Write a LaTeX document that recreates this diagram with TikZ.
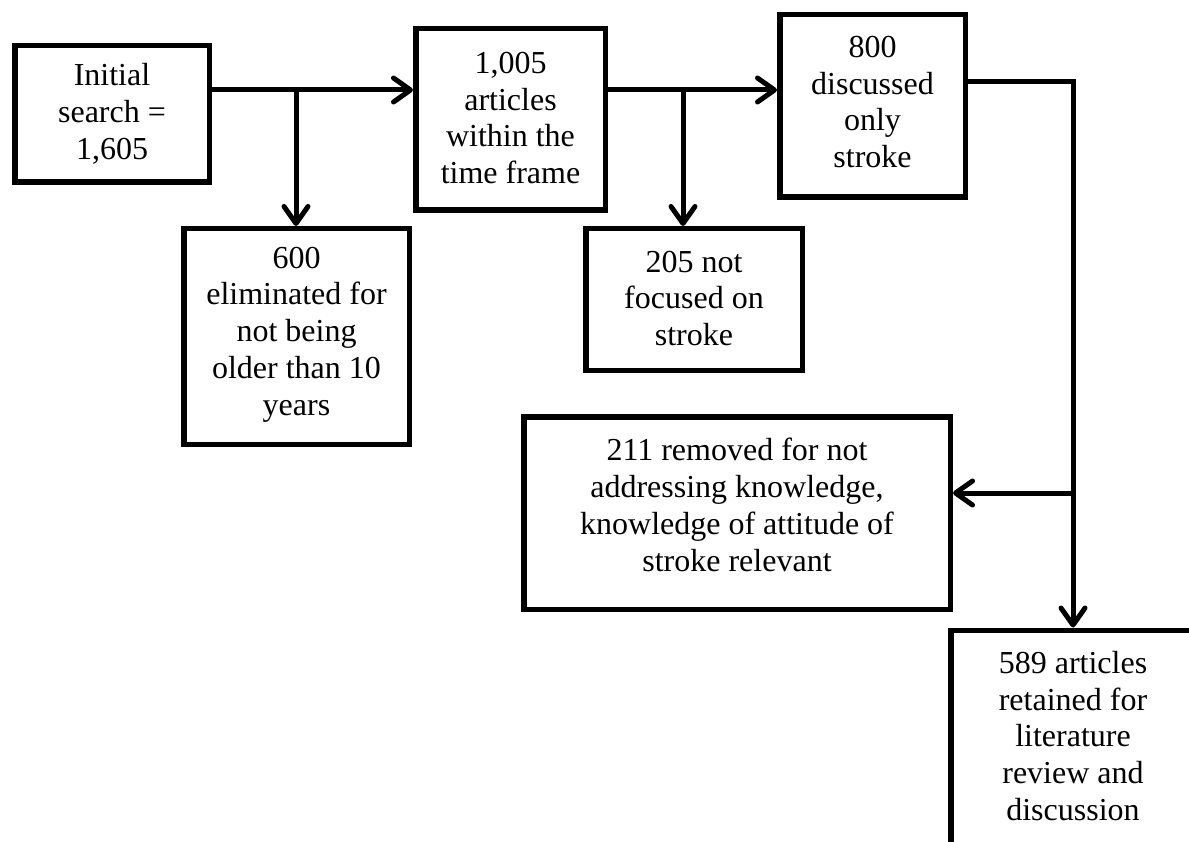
\documentclass[tikz,border=0pt]{standalone}
\usepackage{fontspec}
\setmainfont{Liberation Serif}
\usetikzlibrary{arrows.meta}
\begin{document}
\begin{tikzpicture}[x=1pt,y=-1pt,
  box/.style={draw=black,line width=5.5pt,inner sep=0pt,line join=miter},
  txt/.style={align=center,inner sep=0pt,font=\fontsize{32}{36.8}\selectfont},
  conn/.style={line width=5pt,line join=miter},
  arr/.style={conn,-{Straight Barb[length=17pt,width=24pt,line cap=round,line join=round]}}]
\useasboundingbox (0,0) rectangle (1189,842);
\node[box,minimum width=194.5pt,minimum height=136.5pt,
  label={[txt]center:{Initial\\search =\\1,605}}] (B1) at (112,114) {};
\node[box,minimum width=189.5pt,minimum height=181.5pt,
  label={[txt,yshift=1.5pt]center:{1,005\\articles\\within the\\time frame}}] (B2) at (510.5,119.5) {};
\node[box,minimum width=185.5pt,minimum height=182.5pt,
  label={[txt,yshift=4pt]center:{800\\discussed\\only\\stroke}}] (B3) at (872.5,106) {};
\node[box,minimum width=225.5pt,minimum height=215.5pt,
  label={[txt,yshift=2pt]center:{600\\eliminated for\\not being\\older than 10\\years}}] (B600) at (296.5,336.5) {};
\node[box,minimum width=216.5pt,minimum height=141.5pt,
  label={[txt,yshift=1pt]center:{205 not\\focused on\\stroke}}] (B205) at (694,299.5) {};
\node[box,minimum width=426.5pt,minimum height=192.5pt,
  label={[txt,yshift=8pt]center:{211 removed for not\\addressing knowledge,\\knowledge of attitude of\\stroke relevant}}] (B211) at (737,513) {};
\node[box,minimum width=244.5pt,minimum height=219.5pt,
  label={[txt,yshift=4pt]center:{589 articles\\retained for\\literature\\review and\\discussion}}] (B589) at (1073,740) {};
\coordinate (j1) at (296,90);
\coordinate (j2) at (683,90);
\coordinate (c3) at (1073,82);
\coordinate (j3) at (1073,493);
\draw[arr] (B1.east|-j1) -- (B2.west|-j1);
\draw[arr] (j1) -- (j1|-B600.north);
\draw[arr] (B2.east|-j2) -- (B3.west|-j2);
\draw[arr] (j2) -- (j2|-B205.north);
\draw[arr] (B3.east|-c3) -- (c3) -- (c3|-B589.north);
\draw[arr] (j3) -- (B211.east|-j3);
\end{tikzpicture}
\end{document}
